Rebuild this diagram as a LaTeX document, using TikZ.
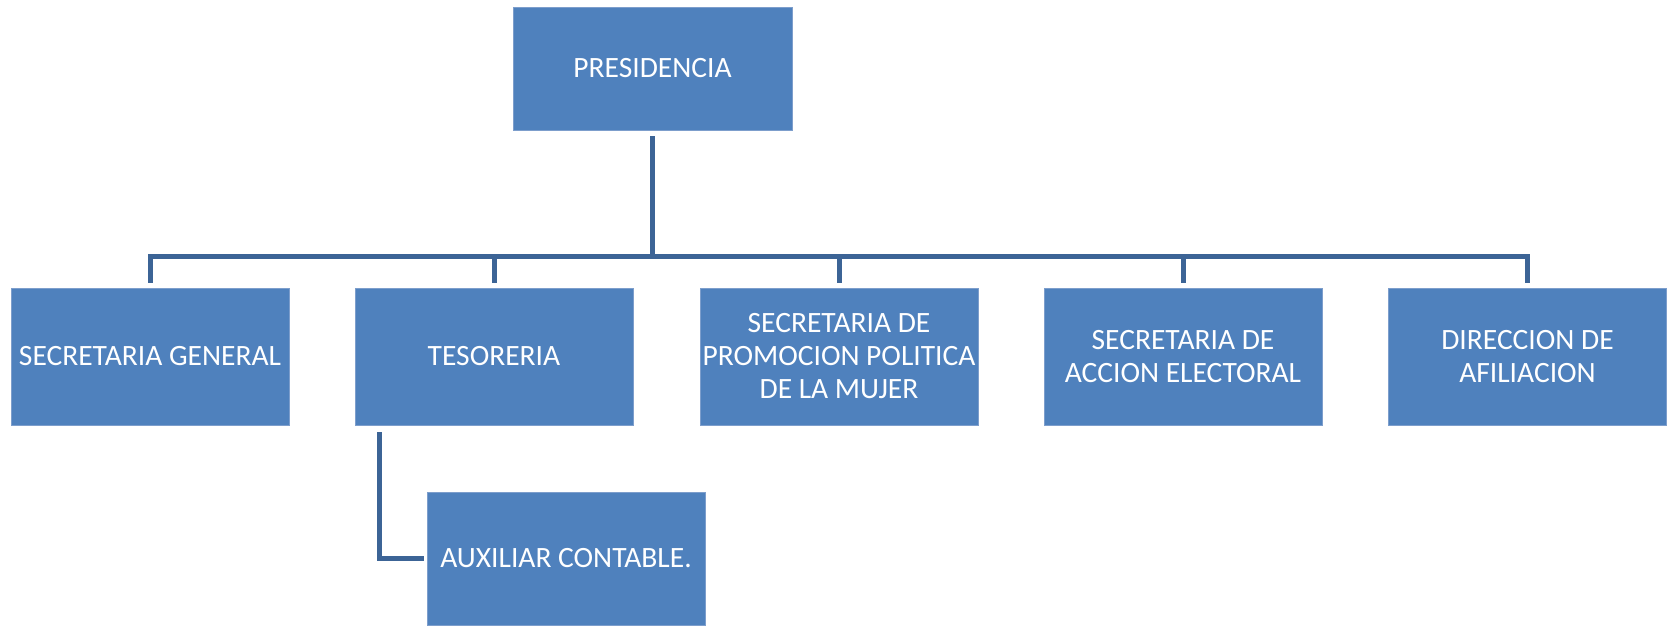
\documentclass[tikz,border=0pt]{standalone}
\usepackage{fontspec}
\setmainfont{Carlito}
\usetikzlibrary{calc}
\definecolor{boxfill}{RGB}{79,129,189}
\definecolor{boxedge}{RGB}{125,158,204}
\definecolor{linkcol}{RGB}{60,100,150}

\begin{document}
\begin{tikzpicture}[x=1pt,y=1pt,yscale=-1,xscale=1,
  box/.style={draw=boxedge,line width=0.75,fill=boxfill,text=white,inner sep=0pt,
    minimum width=278,minimum height=137,align=center,font=\fontsize{29.5}{33}\selectfont},
  conn/.style={draw=linkcol,line width=5}]
\useasboundingbox (0,0) rectangle (1672,626);

%Shape: Rectangle [top]
\node [box,minimum width=279,minimum height=123] (pres) at (652.5,68.5) {PRESIDENCIA};
%Shape: Rectangles [row]
\node [box] (secgen) at (150,356.5) {SECRETARIA GENERAL};
\node [box] (tesor) at (494,356.5) {TESORERIA};
\node [box] (promo) at (839,356.5) {SECRETARIA DE\\PROMOCION POLITICA\\DE LA MUJER};
\node [box] (accion) at (1183,356.5) {SECRETARIA DE\\ACCION ELECTORAL};
\node [box] (afil) at (1527.5,356.5) {DIRECCION DE\\AFILIACION};
%Shape: Rectangle [bottom]
\node [box,minimum height=133] (aux) at (566,558.5) {AUXILIAR CONTABLE.};

%Straight Lines [bus]
\coordinate (bus) at (0,256);
\draw [conn,shorten <=6pt] (pres.south) -- (pres.south |- bus);
\draw [conn,shorten <=5pt,shorten >=5pt] (secgen.north) -- (secgen.north |- bus) -- (afil.north |- bus) -- (afil.north);
\draw [conn,shorten >=5pt] (tesor.north |- bus) -- (tesor.north);
\draw [conn,shorten >=5pt] (promo.north |- bus) -- (promo.north);
\draw [conn,shorten >=5pt] (accion.north |- bus) -- (accion.north);
%Straight Lines [tesoreria to auxiliar]
\draw [conn,shorten <=7pt,shorten >=3pt] ($(tesor.south west)+(25,0)$) |- (aux.west);
\end{tikzpicture}
\end{document}
